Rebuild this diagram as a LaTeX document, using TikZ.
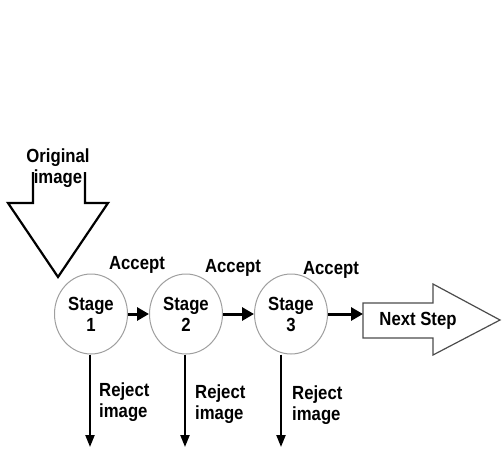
\documentclass[tikz,border=0pt]{standalone}
\usepackage{fontspec}
\setmainfont{Liberation Sans}[FakeStretch=0.88]
\usetikzlibrary{positioning,arrows.meta,shapes.geometric}

\begin{document}
\begin{tikzpicture}[x=1pt, y=-1pt, node distance=95pt, on grid,
    every node/.style={font=\fontsize{19}{21}\selectfont\bfseries},
    stage/.style={ellipse, draw=gray!75, line width=1pt, minimum width=73pt,
                  minimum height=80pt, align=center, inner sep=0pt},
    flow/.style={-{Triangle[length=12pt,width=13pt]}, line width=3pt},
    drop/.style={-{Triangle[length=12pt,width=9pt]}, line width=2.2pt},
    txt/.style={align=left, inner sep=0pt, anchor=west}]

    \useasboundingbox (0,0) rectangle (503,450);

    % input arrow
    \draw[line width=2.2pt, miter limit=20] (33,172) -- (33,203) -- (8,203) -- (58,277)
        -- (108,203) -- (85,203) -- (85,172);
    \node[align=center, inner sep=0pt] (orig) at (58,168) {Original\\image};

    % stages
    \node[stage] (s1) at (91,314) {Stage\\1};
    \node[stage] (s2) [right=95pt of s1] {Stage\\2};
    \node[stage] (s3) [right=105pt of s2] {Stage\\3};

    \node (a1) at (137,265) {Accept};
    \node (a2) at (233,268) {Accept};
    \node (a3) at (331,270) {Accept};

    % output arrow
    \draw[black!70, line width=1.2pt] (363,303) -- (433,303) -- (433,284) -- (500,320)
        -- (433,355) -- (433,338) -- (363,338) -- cycle;
    \coordinate (nsin) at (363,314);
    \node (next) at (418,321) {Next Step};

    \path[flow]
        (s1) edge (s2)
        (s2) edge (s3)
        (s3) edge (nsin);

    % rejects
    \coordinate (r1) at (90,447);
    \coordinate (r2) at (185,447);
    \coordinate (r3) at (281,447);
    \draw[drop] (s1.south -| r1) -- (r1);
    \draw[drop] (s2.south -| r2) -- (r2);
    \draw[drop] (s3.south -| r3) -- (r3);

    \node[txt] (j1) at (99,402) {Reject\\image};
    \node[txt] (j2) at (195,404) {Reject\\image};
    \node[txt] (j3) at (292,405) {Reject\\image};

\end{tikzpicture}
\end{document}
